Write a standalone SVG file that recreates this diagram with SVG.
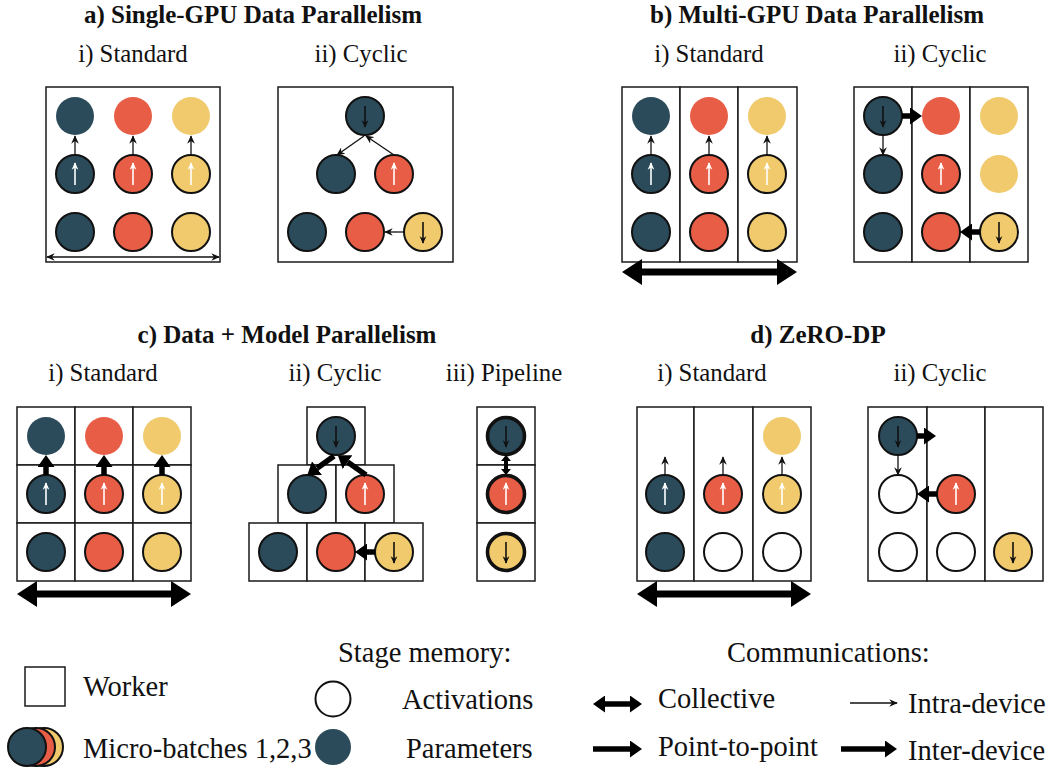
<svg xmlns="http://www.w3.org/2000/svg" width="1057" height="769" viewBox="0 0 1057 769">
  <style>
    text { font-family: "Liberation Serif", "Times New Roman", serif; fill: #111; }
    .title { font-size: 25px; font-weight: bold; text-anchor: middle; }
    .sub { font-size: 24.8px; text-anchor: middle; }
    .leg { font-size: 28.5px; }
    .box { fill: #fff; stroke: #1a1a1a; stroke-width: 1.5; }
    .p1 { fill: #2b4b5b; }
    .p2 { fill: #e85d46; }
    .p3 { fill: #f0ca6d; }
    .act { fill: #fff; }
    .s { stroke: #111; stroke-width: 2; }
    .sp { stroke: #111; stroke-width: 3.6; }
    .thin { stroke: #111; stroke-width: 1.3; fill: none; marker-end: url(#hThin); }
    .thin2 { stroke: #111; stroke-width: 1.3; fill: none; marker-start: url(#hThin); marker-end: url(#hThin); }
    .upW { stroke: #fff; stroke-width: 1.6; marker-end: url(#hWhite); }
    .dnB { stroke: #111; stroke-width: 1.6; marker-end: url(#hBlack); }
    .thick { stroke: #000; stroke-width: 5.5; fill: none; marker-end: url(#hThick); }
    .thick2 { stroke: #000; stroke-width: 5.5; fill: none; marker-start: url(#hThick); marker-end: url(#hThick); }
    .big2 { stroke: #000; stroke-width: 7; fill: none; marker-start: url(#hBig); marker-end: url(#hBig); }
    .small2 { stroke: #000; stroke-width: 4; fill: none; marker-start: url(#hSmall); marker-end: url(#hSmall); }
  </style>
  <defs>
    <marker id="hThin" markerUnits="userSpaceOnUse" viewBox="0 0 10 10" refX="9" refY="5" markerWidth="8.5" markerHeight="8.5" orient="auto-start-reverse">
      <path d="M0,0.5 L10,5 L0,9.5 L3,5 z" fill="#111"/>
    </marker>
    <marker id="hWhite" markerUnits="userSpaceOnUse" viewBox="0 0 10 10" refX="9" refY="5" markerWidth="7.5" markerHeight="7.5" orient="auto">
      <path d="M0,0.5 L10,5 L0,9.5 L3,5 z" fill="#fff"/>
    </marker>
    <marker id="hBlack" markerUnits="userSpaceOnUse" viewBox="0 0 10 10" refX="9" refY="5" markerWidth="7.5" markerHeight="7.5" orient="auto">
      <path d="M0,0.5 L10,5 L0,9.5 L3,5 z" fill="#111"/>
    </marker>
    <marker id="hThick" markerUnits="userSpaceOnUse" viewBox="0 0 12 17" refX="0" refY="8.5" markerWidth="12" markerHeight="17" orient="auto-start-reverse">
      <path d="M0,0 L12,8.5 L0,17 z" fill="#000"/>
    </marker>
    <marker id="hBig" markerUnits="userSpaceOnUse" viewBox="0 0 20 26" refX="0" refY="13" markerWidth="20" markerHeight="26" orient="auto-start-reverse">
      <path d="M0,0 L20,13 L0,26 z" fill="#000"/>
    </marker>
    <marker id="hSmall" markerUnits="userSpaceOnUse" viewBox="0 0 6 10" refX="0" refY="5" markerWidth="6" markerHeight="10" orient="auto-start-reverse">
      <path d="M0,0 L6,5 L0,10 z" fill="#000"/>
    </marker>
  </defs>
  <rect width="1057" height="769" fill="#fff"/>

  <!-- headings -->
  <g id="headings">
    <text class="title" x="253" y="23">a) Single-GPU Data Parallelism</text>
    <text class="sub" x="133" y="62">i) Standard</text>
    <text class="sub" x="361" y="62">ii) Cyclic</text>
    <text class="title" x="817" y="23">b) Multi-GPU Data Parallelism</text>
    <text class="sub" x="709" y="62">i) Standard</text>
    <text class="sub" x="940" y="62">ii) Cyclic</text>
    <text class="title" x="287" y="343">c) Data + Model Parallelism</text>
    <text class="sub" x="103" y="381">i) Standard</text>
    <text class="sub" x="335" y="381">ii) Cyclic</text>
    <text class="sub" x="504" y="381">iii) Pipeline</text>
    <text class="title" x="818" y="343">d) ZeRO-DP</text>
    <text class="sub" x="712" y="381">i) Standard</text>
    <text class="sub" x="940" y="381">ii) Cyclic</text>
  </g>

  <!-- a) single GPU, standard -->
  <g id="a-standard">
    <rect class="box" x="46" y="87" width="174" height="175"/>
    <circle class="p1" cx="75" cy="116" r="19"/>
    <circle class="p2" cx="133" cy="116" r="19"/>
    <circle class="p3" cx="191" cy="116" r="19"/>
    <circle class="p1 s" cx="75" cy="174" r="19"/>
    <circle class="p2 s" cx="133" cy="174" r="19"/>
    <circle class="p3 s" cx="191" cy="174" r="19"/>
    <circle class="p1 s" cx="75" cy="232" r="19"/>
    <circle class="p2 s" cx="133" cy="232" r="19"/>
    <circle class="p3 s" cx="191" cy="232" r="19"/>
    <line class="upW" x1="75" y1="185" x2="75" y2="163"/>
    <line class="upW" x1="133" y1="185" x2="133" y2="163"/>
    <line class="upW" x1="191" y1="185" x2="191" y2="163"/>
  </g>

  <!-- a) single GPU, cyclic -->
  <g id="a-cyclic">
    <rect class="box" x="278" y="87" width="175" height="175"/>
    <circle class="p1 s" cx="365" cy="116" r="19"/>
    <circle class="p1 s" cx="336" cy="174" r="19"/>
    <circle class="p2 s" cx="394" cy="174" r="19"/>
    <circle class="p1 s" cx="307" cy="232" r="19"/>
    <circle class="p2 s" cx="365" cy="232" r="19"/>
    <circle class="p3 s" cx="423" cy="232" r="19"/>
    <line class="dnB" x1="365" y1="106" x2="365" y2="127"/>
    <line class="upW" x1="394" y1="185" x2="394" y2="163"/>
    <line class="dnB" x1="423" y1="222" x2="423" y2="243"/>
  </g>

  <!-- b) multi GPU, standard -->
  <g id="b-standard">
    <rect class="box" x="622" y="87" width="58" height="175"/>
    <rect class="box" x="680" y="87" width="58" height="175"/>
    <rect class="box" x="738" y="87" width="59" height="175"/>
    <circle class="p1" cx="651" cy="116" r="19"/>
    <circle class="p2" cx="709" cy="116" r="19"/>
    <circle class="p3" cx="767" cy="116" r="19"/>
    <circle class="p1 s" cx="651" cy="174" r="19"/>
    <circle class="p2 s" cx="709" cy="174" r="19"/>
    <circle class="p3 s" cx="767" cy="174" r="19"/>
    <circle class="p1 s" cx="651" cy="232" r="19"/>
    <circle class="p2 s" cx="709" cy="232" r="19"/>
    <circle class="p3 s" cx="767" cy="232" r="19"/>
    <line class="upW" x1="651" y1="185" x2="651" y2="163"/>
    <line class="upW" x1="709" y1="185" x2="709" y2="163"/>
    <line class="upW" x1="767" y1="185" x2="767" y2="163"/>
  </g>

  <!-- b) multi GPU, cyclic -->
  <g id="b-cyclic">
    <rect class="box" x="854" y="87" width="58" height="175"/>
    <rect class="box" x="912" y="87" width="58" height="175"/>
    <rect class="box" x="970" y="87" width="58" height="175"/>
    <circle class="p1 s" cx="883" cy="116" r="19"/>
    <circle class="p2" cx="941" cy="116" r="19"/>
    <circle class="p3" cx="999" cy="116" r="19"/>
    <circle class="p1 s" cx="883" cy="174" r="19"/>
    <circle class="p2 s" cx="941" cy="174" r="19"/>
    <circle class="p3" cx="999" cy="174" r="19"/>
    <circle class="p1 s" cx="883" cy="232" r="19"/>
    <circle class="p2 s" cx="941" cy="232" r="19"/>
    <circle class="p3 s" cx="999" cy="232" r="19"/>
    <line class="dnB" x1="883" y1="106" x2="883" y2="127"/>
    <line class="upW" x1="941" y1="185" x2="941" y2="163"/>
    <line class="dnB" x1="999" y1="222" x2="999" y2="243"/>
  </g>

  <!-- c) data + model, standard -->
  <g id="c-standard">
    <rect class="box" x="17" y="407" width="58" height="58"/>
    <rect class="box" x="75" y="407" width="58" height="58"/>
    <rect class="box" x="133" y="407" width="58" height="58"/>
    <rect class="box" x="17" y="465" width="58" height="58"/>
    <rect class="box" x="75" y="465" width="58" height="58"/>
    <rect class="box" x="133" y="465" width="58" height="58"/>
    <rect class="box" x="17" y="523" width="58" height="58"/>
    <rect class="box" x="75" y="523" width="58" height="58"/>
    <rect class="box" x="133" y="523" width="58" height="58"/>
    <circle class="p1" cx="46" cy="436" r="19"/>
    <circle class="p2" cx="104" cy="436" r="19"/>
    <circle class="p3" cx="162" cy="436" r="19"/>
    <circle class="p1 s" cx="46" cy="494" r="19"/>
    <circle class="p2 s" cx="104" cy="494" r="19"/>
    <circle class="p3 s" cx="162" cy="494" r="19"/>
    <circle class="p1 s" cx="46" cy="552" r="19"/>
    <circle class="p2 s" cx="104" cy="552" r="19"/>
    <circle class="p3 s" cx="162" cy="552" r="19"/>
    <line class="upW" x1="46" y1="505" x2="46" y2="483"/>
    <line class="upW" x1="104" y1="505" x2="104" y2="483"/>
    <line class="upW" x1="162" y1="505" x2="162" y2="483"/>
  </g>

  <!-- c) data + model, cyclic -->
  <g id="c-cyclic">
    <rect class="box" x="307" y="407" width="58" height="58"/>
    <rect class="box" x="278" y="465" width="58" height="58"/>
    <rect class="box" x="336" y="465" width="58" height="58"/>
    <rect class="box" x="249" y="523" width="58" height="58"/>
    <rect class="box" x="307" y="523" width="58" height="58"/>
    <rect class="box" x="365" y="523" width="58" height="58"/>
    <circle class="p1 s" cx="336" cy="436" r="19"/>
    <circle class="p1 s" cx="307" cy="494" r="19"/>
    <circle class="p2 s" cx="365" cy="494" r="19"/>
    <circle class="p1 s" cx="278" cy="552" r="19"/>
    <circle class="p2 s" cx="336" cy="552" r="19"/>
    <circle class="p3 s" cx="394" cy="552" r="19"/>
    <line class="dnB" x1="336" y1="426" x2="336" y2="447"/>
    <line class="upW" x1="365" y1="505" x2="365" y2="483"/>
    <line class="dnB" x1="394" y1="542" x2="394" y2="563"/>
  </g>

  <!-- c) data + model, pipeline -->
  <g id="c-pipeline">
    <rect class="box" x="477" y="407" width="58" height="58"/>
    <rect class="box" x="477" y="465" width="58" height="58"/>
    <rect class="box" x="477" y="523" width="58" height="58"/>
    <circle class="p1 sp" cx="506" cy="436" r="18.5"/>
    <circle class="p2 sp" cx="506" cy="494" r="18.5"/>
    <circle class="p3 sp" cx="506" cy="552" r="18.5"/>
    <line class="dnB" x1="506" y1="426" x2="506" y2="447"/>
    <line class="upW" x1="506" y1="505" x2="506" y2="483"/>
    <line class="dnB" x1="506" y1="542" x2="506" y2="563"/>
  </g>

  <!-- d) ZeRO-DP, standard -->
  <g id="d-standard">
    <rect class="box" x="637" y="407" width="57" height="174"/>
    <rect class="box" x="694" y="407" width="59" height="174"/>
    <rect class="box" x="753" y="407" width="58" height="174"/>
    <circle class="p3" cx="782" cy="436" r="19"/>
    <circle class="p1 s" cx="665" cy="494" r="19"/>
    <circle class="p2 s" cx="723" cy="494" r="19"/>
    <circle class="p3 s" cx="782" cy="494" r="19"/>
    <circle class="p1 s" cx="665" cy="552" r="19"/>
    <circle class="act s" cx="723" cy="552" r="19"/>
    <circle class="act s" cx="782" cy="552" r="19"/>
    <line class="upW" x1="665" y1="505" x2="665" y2="483"/>
    <line class="upW" x1="723" y1="505" x2="723" y2="483"/>
    <line class="upW" x1="782" y1="505" x2="782" y2="483"/>
  </g>

  <!-- d) ZeRO-DP, cyclic -->
  <g id="d-cyclic">
    <rect class="box" x="868" y="407" width="59" height="174"/>
    <rect class="box" x="927" y="407" width="58" height="174"/>
    <rect class="box" x="985" y="407" width="58" height="174"/>
    <circle class="p1 s" cx="898" cy="436" r="19"/>
    <circle class="act s" cx="898" cy="494" r="19"/>
    <circle class="p2 s" cx="956" cy="494" r="19"/>
    <circle class="act s" cx="898" cy="552" r="19"/>
    <circle class="act s" cx="956" cy="552" r="19"/>
    <circle class="p3 s" cx="1013" cy="552" r="19"/>
    <line class="dnB" x1="898" y1="426" x2="898" y2="447"/>
    <line class="upW" x1="956" y1="505" x2="956" y2="483"/>
    <line class="dnB" x1="1013" y1="542" x2="1013" y2="563"/>
  </g>

  <!-- communications between stages -->
  <g id="connectors">
    <!-- a -->
    <line class="thin" x1="75" y1="155" x2="75" y2="136"/>
    <line class="thin" x1="133" y1="155" x2="133" y2="136"/>
    <line class="thin" x1="191" y1="155" x2="191" y2="136"/>
    <line class="thin2" x1="47" y1="257" x2="219" y2="257"/>
    <line class="thin" x1="364" y1="136" x2="337" y2="155"/>
    <line class="thin" x1="394" y1="155" x2="366" y2="136"/>
    <line class="thin" x1="404" y1="232" x2="385" y2="232"/>
    <!-- b -->
    <line class="thin" x1="651" y1="155" x2="651" y2="136"/>
    <line class="thin" x1="709" y1="155" x2="709" y2="136"/>
    <line class="thin" x1="767" y1="155" x2="767" y2="136"/>
    <line class="big2" x1="642" y1="272" x2="777" y2="272"/>
    <line class="thick" x1="902" y1="116" x2="910" y2="116"/>
    <line class="thin" x1="883" y1="135" x2="883" y2="155"/>
    <line class="thick" x1="980" y1="232" x2="972" y2="232"/>
    <!-- c -->
    <line class="thick" x1="46" y1="475" x2="46" y2="467"/>
    <line class="thick" x1="104" y1="475" x2="104" y2="467"/>
    <line class="thick" x1="162" y1="475" x2="162" y2="467"/>
    <line class="big2" x1="37" y1="594" x2="171" y2="594"/>
    <line class="thick" x1="334" y1="456" x2="317" y2="468.2"/>
    <line class="thick" x1="366" y1="475" x2="347.6" y2="462.1"/>
    <line class="thick" x1="375" y1="552" x2="367" y2="552"/>
    <line class="small2" x1="506" y1="461" x2="506" y2="469"/>
    <!-- d -->
    <line class="thin" x1="665" y1="474" x2="665" y2="457"/>
    <line class="thin" x1="723" y1="474" x2="723" y2="457"/>
    <line class="thin" x1="782" y1="474" x2="782" y2="457"/>
    <line class="big2" x1="657" y1="594" x2="791" y2="594"/>
    <line class="thick" x1="917" y1="436" x2="924" y2="436"/>
    <line class="thin" x1="898" y1="455" x2="898" y2="475"/>
    <line class="thick" x1="937" y1="494" x2="929" y2="494"/>
  </g>

  <!-- key -->
  <g id="legend-worker">
    <rect class="box" x="25" y="667" width="40" height="39"/>
    <text class="leg" x="83" y="696">Worker</text>
  </g>
  <g id="legend-microbatches">
    <circle class="p3 s" cx="44" cy="747" r="19"/>
    <circle class="p2 s" cx="36" cy="747" r="19"/>
    <circle class="p1 s" cx="27" cy="747" r="19"/>
    <text class="leg" x="83" y="758">Micro-batches 1,2,3</text>
  </g>
  <g id="legend-memory">
    <text class="leg" x="338" y="662">Stage memory:</text>
    <circle class="act s" cx="333" cy="699" r="17.5"/>
    <text class="leg" x="402" y="709">Activations</text>
    <circle class="p1" cx="333" cy="747" r="18"/>
    <text class="leg" x="406" y="758">Parameters</text>
  </g>
  <g id="legend-comms">
    <text class="leg" x="727" y="662">Communications:</text>
    <line class="thick2" x1="605" y1="704" x2="630" y2="704"/>
    <text class="leg" x="658" y="708">Collective</text>
    <line class="thick" x1="593" y1="749" x2="630" y2="749"/>
    <text class="leg" x="658" y="756">Point-to-point</text>
    <line class="thin" x1="850" y1="703" x2="897" y2="703"/>
    <text class="leg" x="908" y="713">Intra-device</text>
    <line class="thick" x1="841" y1="749" x2="885" y2="749"/>
    <text class="leg" x="908" y="760">Inter-device</text>
  </g>
</svg>
